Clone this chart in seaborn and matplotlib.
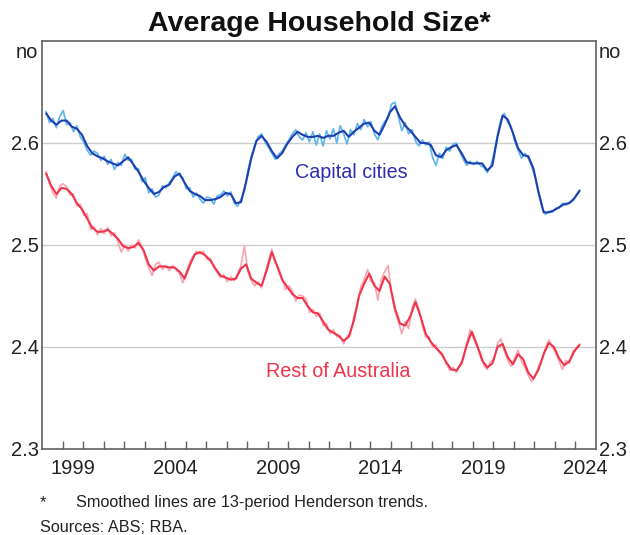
import numpy as np
import matplotlib
matplotlib.use("Agg")
import matplotlib.pyplot as plt
import seaborn as sns

# Henderson trends, quarterly, first point early 1998
cap_trend = [
    2.629, 2.622, 2.618,
    2.622, 2.622, 2.616, 2.614,
    2.608, 2.597, 2.590, 2.587,
    2.585, 2.582, 2.580, 2.578,
    2.582, 2.586, 2.579, 2.572,
    2.563, 2.556, 2.550, 2.552,
    2.557, 2.559, 2.567, 2.570,
    2.561, 2.553, 2.550, 2.548,
    2.544, 2.544, 2.545, 2.547,
    2.551, 2.550, 2.541, 2.542,
    2.562, 2.585, 2.602, 2.607,
    2.601, 2.592, 2.585, 2.590,
    2.599, 2.606, 2.611, 2.608,
    2.606, 2.606, 2.607, 2.605,
    2.607, 2.607, 2.610, 2.612,
    2.606, 2.611, 2.615, 2.619,
    2.620, 2.612, 2.608, 2.618,
    2.630, 2.636, 2.625, 2.617,
    2.612, 2.606, 2.600, 2.600,
    2.598, 2.588, 2.586, 2.593,
    2.596, 2.598, 2.590, 2.581,
    2.580, 2.580, 2.580, 2.573,
    2.578, 2.606, 2.627, 2.623,
    2.610, 2.595, 2.588, 2.587,
    2.575, 2.552, 2.532, 2.532,
    2.534, 2.537, 2.540, 2.541,
    2.546, 2.553,
]
rest_trend = [
    2.570, 2.558, 2.550,
    2.556, 2.555, 2.550, 2.541,
    2.535, 2.526, 2.517, 2.513,
    2.513, 2.515, 2.511, 2.506,
    2.499, 2.497, 2.498, 2.502,
    2.495, 2.481, 2.475, 2.479,
    2.479, 2.478, 2.478, 2.474,
    2.467, 2.480, 2.491, 2.493,
    2.490, 2.485, 2.477, 2.470,
    2.468, 2.466, 2.467, 2.477,
    2.481, 2.467, 2.463, 2.460,
    2.475, 2.493, 2.480, 2.466,
    2.459, 2.452, 2.448, 2.448,
    2.440, 2.434, 2.433, 2.425,
    2.417, 2.414, 2.411, 2.406,
    2.410, 2.426, 2.450, 2.462,
    2.472, 2.460, 2.455, 2.469,
    2.462, 2.438, 2.423, 2.421,
    2.430, 2.444, 2.430, 2.413,
    2.405, 2.399, 2.394, 2.385,
    2.378, 2.377, 2.384, 2.402,
    2.415, 2.402, 2.387, 2.380,
    2.384, 2.400, 2.403, 2.390,
    2.383, 2.393, 2.388, 2.375,
    2.369, 2.378, 2.393, 2.404,
    2.400, 2.389, 2.382, 2.386,
    2.396, 2.402,
]

# original (unsmoothed) series, every two months
cap_raw = [
    2.631, 2.620, 2.624, 2.615, 2.626, 2.632, 2.618, 2.620, 2.611,
    2.617, 2.606, 2.601, 2.593, 2.588, 2.592, 2.590, 2.583, 2.587,
    2.579, 2.584, 2.574, 2.581, 2.578, 2.589, 2.583, 2.584, 2.574,
    2.575, 2.562, 2.566, 2.551, 2.555, 2.547, 2.549, 2.558, 2.556,
    2.561, 2.566, 2.572, 2.568, 2.566, 2.555, 2.556, 2.547, 2.551,
    2.545, 2.541, 2.547, 2.546, 2.540, 2.548, 2.549, 2.553, 2.548,
    2.552, 2.541, 2.538, 2.545, 2.553, 2.573, 2.587, 2.598, 2.606,
    2.609, 2.601, 2.596, 2.590, 2.584, 2.589, 2.592, 2.598, 2.603,
    2.609, 2.613, 2.606, 2.603, 2.610, 2.601, 2.611, 2.598, 2.609,
    2.597, 2.612, 2.604, 2.614, 2.600, 2.617, 2.609, 2.599, 2.613,
    2.608, 2.619, 2.613, 2.623, 2.616, 2.621, 2.609, 2.603, 2.615,
    2.621, 2.624, 2.638, 2.640, 2.626, 2.612, 2.620, 2.609, 2.613,
    2.602, 2.597, 2.603, 2.598, 2.601, 2.586, 2.578, 2.590, 2.585,
    2.596, 2.592, 2.599, 2.600, 2.591, 2.584, 2.578, 2.582, 2.579,
    2.582, 2.578, 2.576, 2.571, 2.577, 2.590, 2.608, 2.623, 2.629,
    2.620, 2.616, 2.602, 2.593, 2.585, 2.590, 2.585, 2.577, 2.566,
    2.550, 2.537, 2.530, 2.533, 2.532, 2.536, 2.536, 2.541, 2.539,
    2.542, 2.543, 2.549, 2.554,
]
rest_raw = [
    2.572, 2.560, 2.551, 2.546, 2.558, 2.560, 2.557, 2.549, 2.550,
    2.538, 2.540, 2.529, 2.531, 2.515, 2.518, 2.510, 2.516, 2.511,
    2.517, 2.509, 2.512, 2.503, 2.493, 2.500, 2.494, 2.500, 2.497,
    2.505, 2.499, 2.487, 2.478, 2.470, 2.481, 2.483, 2.476, 2.480,
    2.475, 2.480, 2.476, 2.472, 2.463, 2.474, 2.483, 2.489, 2.494,
    2.491, 2.494, 2.486, 2.487, 2.478, 2.473, 2.468, 2.471, 2.464,
    2.469, 2.465, 2.472, 2.480, 2.499, 2.474, 2.465, 2.460, 2.464,
    2.458, 2.472, 2.484, 2.496, 2.482, 2.477, 2.468, 2.456, 2.460,
    2.455, 2.445, 2.451, 2.450, 2.447, 2.434, 2.437, 2.430, 2.433,
    2.421, 2.423, 2.413, 2.417, 2.410, 2.411, 2.403, 2.411, 2.412,
    2.430, 2.440, 2.459, 2.466, 2.476, 2.464, 2.463, 2.446, 2.466,
    2.474, 2.480, 2.452, 2.435, 2.425, 2.413, 2.425, 2.418, 2.438,
    2.447, 2.437, 2.421, 2.410, 2.410, 2.400, 2.402, 2.394, 2.393,
    2.384, 2.377, 2.380, 2.375, 2.383, 2.388, 2.404, 2.417, 2.408,
    2.400, 2.395, 2.382, 2.378, 2.386, 2.387, 2.404, 2.408, 2.396,
    2.387, 2.381, 2.389, 2.397, 2.386, 2.380, 2.372, 2.366, 2.371,
    2.381, 2.387, 2.399, 2.407, 2.400, 2.394, 2.386, 2.378, 2.387,
    2.384, 2.395, 2.399, 2.403,
]

trend_dates = 1998.2 + 0.25 * np.arange(len(cap_trend))
raw_dates = 1998.2 + np.arange(len(cap_raw)) / 6

label_years = [1999, 2004, 2009, 2014, 2019, 2024]
y_ticks = [2.3, 2.4, 2.5, 2.6]

BLUE = "#1f3fb0"
BLUE_LIGHT = "#5cb6ea"
RED = "#f0344c"
RED_LIGHT = "#f7a5b0"
FRAME = "#606060"

sns.set_style("white")
plt.rcParams["font.family"] = ["Liberation Sans", "DejaVu Sans"]

fig = plt.figure(figsize=(6.3, 5.35), dpi=100)
ax = fig.add_axes([42 / 630, 1 - 449 / 535, 554 / 630, 408 / 535])

sns.lineplot(x=raw_dates, y=cap_raw, color=BLUE_LIGHT, lw=1.2, ax=ax)
sns.lineplot(x=raw_dates, y=rest_raw, color=RED_LIGHT, lw=1.2, ax=ax)
sns.lineplot(x=trend_dates, y=cap_trend, color=BLUE, lw=1.5, ax=ax)
sns.lineplot(x=trend_dates, y=rest_trend, color=RED, lw=1.5, ax=ax)

ax.set_xlim(1998, 2025)
ax.set_ylim(2.3, 2.7)

for v in [2.4, 2.5, 2.6]:
    ax.axhline(v, color="#cccccc", lw=1.0, zorder=0)

ax.set_xticks(range(1999, 2025))
ax.set_xticks([y + 0.5 for y in label_years], minor=True)
ax.set_xticklabels([str(y) for y in label_years], minor=True)
ax.tick_params(axis="x", which="major", direction="in", length=6, width=1,
               color=FRAME, bottom=True, labelbottom=False)
ax.tick_params(axis="x", which="minor", bottom=True, length=0, labelsize=14.5,
               pad=7.5, labelcolor="#222222")

ax.set_yticks(y_ticks)
ax.set_yticklabels([f"{v:.1f}" for v in y_ticks])
ax.tick_params(axis="y", length=0, labelsize=14.5, labelcolor="#222222",
               left=True, right=True, labelleft=True, labelright=True, pad=2.5)

for side in ["left", "right", "top", "bottom"]:
    ax.spines[side].set_visible(True)
    ax.spines[side].set_color(FRAME)
    ax.spines[side].set_linewidth(1.2)

# unit labels above the axis on both sides
ax.text(-0.007, 2.6833, "no", transform=ax.get_yaxis_transform(), ha="right",
        va="baseline", fontsize=14.5, color="#222222")
ax.text(1.004, 2.6833, "no", transform=ax.get_yaxis_transform(), ha="left",
        va="baseline", fontsize=14.5, color="#222222")

ax.text(2013.06, 2.5657, "Capital cities", color="#2d2db0", fontsize=14.2,
        ha="center", va="baseline")
ax.text(2012.43, 2.3709, "Rest of Australia", color=RED, fontsize=14.2,
        ha="center", va="baseline")
ax.set_xlabel("")
ax.set_ylabel("")

fig.text(319 / 630, 1 - 30.7 / 535, "Average Household Size*", ha="center",
         va="baseline", fontsize=20.5, fontweight="bold", color="#111111")
fig.text(40 / 630, 1 - 503 / 535, "*", ha="left", va="center", fontsize=11.7,
         color="#222222")
fig.text(76 / 630, 1 - 503 / 535, "Smoothed lines are 13-period Henderson trends.",
         ha="left", va="center", fontsize=11.7, color="#222222")
fig.text(40 / 630, 1 - 527 / 535, "Sources: ABS; RBA.", ha="left", va="center",
         fontsize=11.7, color="#222222")

fig.savefig("out.png", dpi=100)
